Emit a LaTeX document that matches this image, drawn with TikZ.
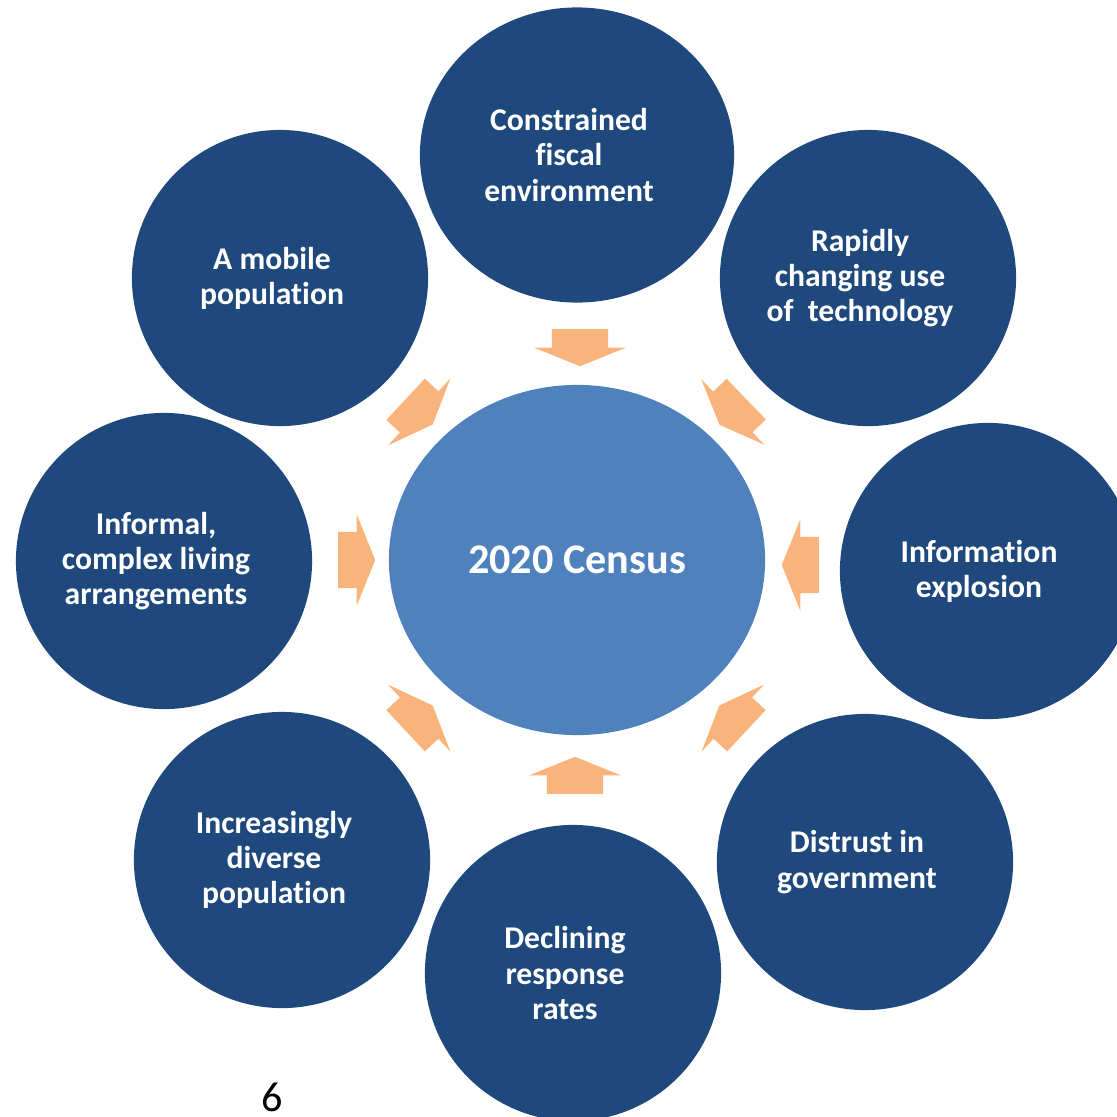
\documentclass[tikz,border=0pt]{standalone}
\usepackage{fontspec}
\setmainfont{Carlito}[Ligatures=NoCommon]
\usetikzlibrary{shapes.geometric}
\usetikzlibrary{shapes.arrows}
\definecolor{darkblue}{HTML}{1F497D}
\definecolor{midblue}{HTML}{4F81BD}
\definecolor{peach}{HTML}{F9B47B}
\tikzset{
  topic/.style= {circle, fill=darkblue, minimum size=2.96cm, inner sep=0},
  widetopic/.style= {ellipse, fill=darkblue, minimum width=3.14cm, minimum height=2.95cm, inner sep=0},
  topictext/.style= {text=white, align=center, inner sep=0, font=\bfseries\fontsize{9}{10}\selectfont},
  census/.style= {ellipse, fill=midblue, text=white, minimum width=3.76cm, minimum height=3.5cm,
    inner sep=0, font=\bfseries\fontsize{12}{14}\selectfont},
  push/.style= {single arrow, fill=peach, minimum height=0.37cm, inner xsep=0, inner ysep=0.275cm,
    single arrow head extend=0.175cm, single arrow tip angle=136},
}

\begin{document}
\begin{tikzpicture}[x=0.01cm, y=-0.01cm]
  \useasboundingbox (0,0) rectangle (1117,1117);
  \clip (0,0) rectangle (1117,1117);

  \node [census] (census) at (577,560) {2020 Census} ;

  \node [widetopic] (fiscal) at (577,155) {} ;
  \node [topic] (tech) at (868,278) {} ;
  \node [topic] (info) at (988,571) {} ;
  \node [topic] (distrust) at (865,862) {} ;
  \node [topic] (response) at (573,973) {} ;
  \node [topic] (diverse) at (282,860) {} ;
  \node [topic] (living) at (164,561) {} ;
  \node [topic] (mobile) at (280,278) {} ;

  \node [topictext] (tfiscal) at ([xshift=-0.08cm]fiscal.center) {Constrained\\fiscal\\environment} ;
  \node [topictext] (ttech) at ([xshift=-0.08cm]tech.center) {Rapidly\\changing use\\of~ technology} ;
  \node [topictext] (tinfo) at ([xshift=-0.09cm]info.center) {Information\\explosion} ;
  \node [topictext] (tdistrust) at ([xshift=-0.08cm]distrust.center) {Distrust in\\government} ;
  \node [topictext] (tresponse) at ([xshift=-0.08cm]response.center) {Declining\\response\\rates} ;
  \node [topictext] (tdiverse) at ([xshift=-0.08cm]diverse.center) {Increasingly\\diverse\\population} ;
  \node [topictext] (tliving) at ([xshift=-0.08cm]living.center) {Informal,\\complex living\\arrangements} ;
  \node [topictext] (tmobile) at ([xshift=-0.08cm]mobile.center) {A mobile\\population} ;

  \node [push, rotate=-90] (pfiscal) at (580,342) {} ;
  \node [push, rotate=-136] (ptech) at (737,408) {} ;
  \node [push, rotate=180] (pinfo) at (806,565) {} ;
  \node [push, rotate=137] (pdistrust) at (737,722) {} ;
  \node [push, rotate=90] (presponse) at (575,781) {} ;
  \node [push, rotate=43] (pdiverse) at (415,722) {} ;
  \node [push, rotate=0] (pliving) at (351,560) {} ;
  \node [push, rotate=-43] (pmobile) at (415,408) {} ;

  \node [font=\fontsize{12}{14}\selectfont, inner sep=0] (page) at (272,1097) {6} ;
\end{tikzpicture}
\end{document}
